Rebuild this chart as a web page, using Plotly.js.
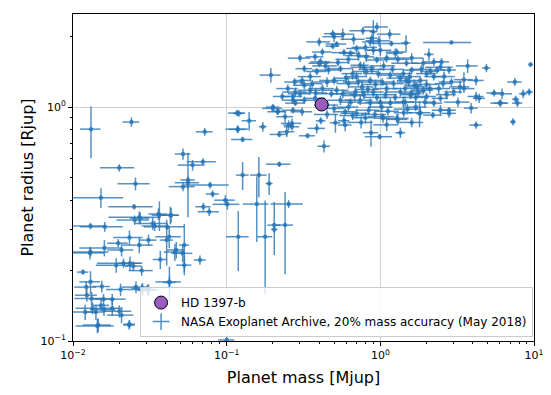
<!DOCTYPE html>
<html>
<head>
<meta charset="utf-8">
<script src="https://cdn.plot.ly/plotly-3.0.1.min.js"></script>
<style>html,body{margin:0;padding:0;background:#fff}#chart{width:551px;height:395px}</style>
</head>
<body>
<div id="chart"></div>
<script>
// NASA Exoplanet Archive planets (mass [Mjup], radius [Rjup]) with errors
const mass = [
0.0131,0.024,0.072,0.118,0.117,0.052,0.020,0.070,0.060,0.056,
0.056,0.0255,0.052,0.078,0.081,0.0152,0.098,0.101,0.0705,0.077,
0.025,0.027,0.0252,0.036,0.0435,0.033,0.034,0.013,0.0161,0.041,
0.0274,0.0365,0.043,0.0233,0.027,0.031,0.0197,0.0207,0.016,0.0130,
0.0407,0.047,0.037,0.0235,0.0213,0.0247,0.028,0.0191,0.0116,0.013,
0.0122,0.0123,0.0154,0.0204,0.0257,0.0284,0.031,0.0424,0.0132,0.0158,
0.018,0.0134,0.0152,0.0159,0.018,0.02,0.0207,0.0141,0.0146,0.0233,
0.012,0.0423,0.053,0.0517,0.046,0.053,0.067,0.119,0.0424,0.028,
0.0305,0.0232,0.0144,0.0129,0.1,0.12,0.14,0.118,0.172,0.127,
0.22,0.246,0.253,0.266,0.336,0.386,0.41,0.43,0.51,0.58,
0.2,0.214,0.87,0.99,1.04,0.22,0.127,0.162,0.189,0.157,
0.253,0.204,0.24,0.204,0.178,4.2,7.3,1.8,1.35,1.03,
1.3,2.8,3.9,6.05,7.8,1.47,2.9,2.07,9.5,4.9,
4.2,7.5,5.5,6.2,6.0,7.6,8.5,9.3,4.4,2.46,
2.8,3.7,3.5,3.3,3.5,2.8,2.46,1.82,1.42,2.2,
3.0,2.7,2.34,2.23,2.0,1.82,1.67,1.48,1.48,1.41,
1.6,1.9,2.0,2.46,1.57,1.45,2.23,1.77,2.56,1.9,
2.23,2.5,1.18,0.9,0.88,0.5,0.52,0.49,0.42,0.58,
0.64,1.28,0.95,0.81,0.74,0.41,0.32,0.386,0.46,0.55,
0.66,0.81,0.97,1.16,0.277,0.32,0.36,0.45,0.5,0.62,
0.72,0.86,1.03,1.22,1.53,1.73,0.28,0.35,0.42,0.52,
0.57,0.69,0.78,0.9,1.08,1.35,1.6,0.27,0.32,0.376,
0.55,0.64,0.74,0.86,1.0,1.16,1.41,0.5,0.59,0.7,
0.84,1.28,0.28,0.31,0.27,0.194,0.31,0.23,0.27,0.2,
0.216,0.24,0.266,0.59,0.49,0.86,0.9,0.7,0.376,0.4,
1.25,4.2,2.12,
0.45,0.62,0.68,0.76,0.83,0.93,1.1,1.25,1.45,1.7,
0.38,0.48,0.6,0.7,0.78,0.88,1.05,1.2,1.35,1.55,
0.95,1.02,1.12,0.66,0.8,0.92,1.5,1.7,1.95,2.1,
0.35,0.44,0.53,0.62,0.72,1.0,1.1,1.3,1.6,0.98,
0.8,0.67,0.57,0.77,0.95,1.15,0.4,0.3,0.25,0.3,
0.45,0.75,1.1,1.6,2.4,2.9,3.2,2.0,2.6,1.85
];
const massErr = [
0.002,0.003,0.009,0.02,0.015,0.006,0.005,0.015,0.012,0.006,
0.01,0.006,0.01,0.025,0.008,0.006,0.015,0.02,0.008,0.012,
0.008,0.01,0.006,0.005,0.005,0.008,0.006,0.0035,0.005,0.012,
0.004,0.004,0.006,0.005,0.006,0.004,0.003,0.004,0.005,0.004,
0.004,0.006,0.004,0.004,0.007,0.003,0.005,0.005,0.001,0.002,
0.002,0.002,0.002,0.004,0.005,0.004,0.005,0.004,0.003,0.003,
0.004,0.003,0.002,0.003,0.003,0.004,0.004,0.002,0.003,0.002,
0.002,0.008,0.004,0.008,0.007,0.006,0.006,0.02,0.008,0.004,
0.004,0.002,0.004,0.003,0.012,0.01,0.015,0.015,0.01,0.02,
0.03,0.03,0.02,0.03,0.04,0.05,0.03,0.04,0.04,0.05,
0.02,0.03,0.1,0.2,0.1,0.04,0.012,0.02,0.01,0.03,
0.06,0.02,0.03,0.01,0.02,0.4,0.3,0.1,0.1,0.2,
0.2,0.3,0.4,0.6,0.6,0.1,1.0,0.15,0.3,0.3,
0.5,0.8,0.6,1.0,0.8,0.4,0.5,0.5,0.4,0.5,
0.3,0.6,0.5,0.5,0.6,0.3,0.3,0.3,0.2,0.3,
0.4,0.4,0.3,0.3,0.3,0.2,0.2,0.2,0.3,0.2,
0.2,0.3,0.3,0.3,0.2,0.2,0.3,0.2,0.3,0.3,
0.3,0.3,0.3,0.05,0.08,0.08,0.08,0.05,0.06,0.1,
0.1,0.2,0.15,0.1,0.1,0.06,0.04,0.06,0.1,0.1,
0.1,0.15,0.2,0.2,0.04,0.05,0.06,0.08,0.1,0.1,
0.15,0.15,0.2,0.2,0.25,0.25,0.05,0.06,0.08,0.1,
0.1,0.12,0.15,0.15,0.2,0.25,0.25,0.04,0.05,0.06,
0.1,0.1,0.15,0.15,0.2,0.2,0.25,0.08,0.1,0.15,
0.15,0.25,0.04,0.05,0.04,0.03,0.04,0.03,0.04,0.03,
0.02,0.03,0.04,0.06,0.06,0.1,0.1,0.1,0.05,0.06,
0.15,0.5,0.3,
0.08,0.1,0.12,0.14,0.15,0.18,0.2,0.22,0.25,0.3,
0.07,0.09,0.1,0.12,0.14,0.16,0.2,0.22,0.25,0.28,
0.17,0.18,0.2,0.12,0.14,0.17,0.28,0.3,0.35,0.4,
0.06,0.08,0.1,0.11,0.13,0.18,0.2,0.24,0.3,0.18,
0.15,0.12,0.1,0.14,0.17,0.2,0.07,0.05,0.04,0.05,
0.08,0.14,0.2,0.3,0.45,0.5,0.6,0.35,0.45,0.3
];
const radius = [
0.805,0.863,0.784,0.805,0.943,0.63,0.55,0.584,0.565,0.488,
0.475,0.47,0.457,0.464,0.425,0.41,0.40,0.384,0.375,0.357,
0.375,0.338,0.329,0.349,0.345,0.318,0.31,0.31,0.308,0.308,
0.335,0.345,0.345,0.277,0.257,0.27,0.262,0.245,0.25,0.24,
0.27,0.245,0.223,0.215,0.215,0.209,0.2,0.211,0.197,0.179,
0.17,0.157,0.171,0.166,0.17,0.166,0.165,0.178,0.152,0.151,
0.151,0.138,0.142,0.136,0.138,0.134,0.129,0.133,0.117,0.118,
0.133,0.279,0.257,0.237,0.24,0.211,0.222,0.279,0.179,0.168,
0.166,0.117,0.116,0.238,0.101,0.94,0.874,0.803,0.824,0.727,
0.764,0.784,0.838,0.824,0.754,0.811,0.874,0.68,0.857,0.874,
1.0,0.955,0.777,0.747,0.895,0.57,0.512,0.512,0.471,0.385,
0.385,0.313,0.313,0.30,0.279,0.838,0.865,0.94,0.777,0.91,
0.886,0.94,0.99,1.04,1.04,1.88,1.89,1.68,1.52,1.47,
1.30,1.28,1.15,1.14,1.04,1.08,1.14,1.16,1.09,1.48,
1.44,1.50,1.31,1.22,1.2,0.97,0.97,0.946,0.946,0.924,
1.16,1.13,1.44,1.35,1.39,1.30,1.24,1.30,1.54,1.39,
1.44,1.18,1.11,1.09,1.13,1.05,1.04,1.16,1.26,1.54,
1.56,1.56,1.87,2.1,1.97,2.0,1.86,1.82,1.72,1.71,
1.70,1.72,1.59,1.64,1.51,1.56,1.46,1.42,1.44,1.46,
1.39,1.42,1.39,1.37,1.28,1.24,1.26,1.28,1.30,1.26,
1.28,1.30,1.28,1.26,1.28,1.22,1.16,1.18,1.2,1.18,
1.14,1.16,1.13,1.16,1.13,1.16,1.14,1.07,1.07,1.09,
1.07,1.05,1.07,1.04,1.05,1.04,1.05,0.987,0.955,0.94,
0.97,0.895,1.04,0.955,0.97,1.37,1.30,1.11,1.11,0.987,
0.96,0.91,0.852,0.838,2.06,1.90,1.75,1.78,1.64,1.54,
1.7,1.11,1.42,
1.02,1.0,1.12,1.22,1.19,1.25,1.2,1.1,1.2,1.1,
1.15,1.14,1.33,1.35,1.48,1.45,1.5,1.45,1.33,1.35,
1.1,1.0,0.96,0.92,0.9,0.93,0.98,1.0,1.05,1.2,
1.35,1.5,1.55,1.6,1.66,1.75,1.62,1.6,1.62,1.92,
1.8,1.95,2.05,2.12,2.2,2.05,1.9,1.62,1.2,1.14,
0.93,0.86,0.84,0.86,1.2,1.28,1.05,1.25,1.35,1.45
];
const radiusErr = [
0.2,0.04,0.03,0.03,0.03,0.035,0.02,0.02,0.03,0.15,
0.03,0.03,0.02,0.015,0.015,0.04,0.02,0.02,0.015,0.015,
0.01,0.02,0.015,0.02,0.025,0.02,0.015,0.01,0.015,0.01,
0.02,0.05,0.03,0.02,0.02,0.015,0.01,0.015,0.02,0.01,
0.06,0.02,0.02,0.015,0.01,0.01,0.01,0.015,0.005,0.02,
0.01,0.01,0.01,0.01,0.01,0.01,0.01,0.03,0.01,0.008,
0.008,0.008,0.008,0.008,0.01,0.008,0.01,0.01,0.008,0.005,
0.01,0.03,0.06,0.02,0.02,0.02,0.01,0.08,0.01,0.008,
0.008,0.005,0.008,0.015,0.005,0.03,0.08,0.03,0.04,0.02,
0.02,0.04,0.04,0.03,0.02,0.04,0.03,0.04,0.08,0.04,
0.03,0.03,0.1,0.02,0.04,0.015,0.07,0.1,0.05,0.12,
0.015,0.08,0.12,0.01,0.12,0.03,0.03,0.12,0.04,0.03,
0.05,0.04,0.05,0.04,0.04,0.15,0.03,0.1,0.03,0.06,
0.06,0.05,0.04,0.06,0.03,0.04,0.05,0.04,0.05,0.05,
0.05,0.1,0.1,0.08,0.05,0.03,0.05,0.05,0.04,0.03,
0.05,0.05,0.05,0.05,0.05,0.05,0.05,0.05,0.05,0.05,
0.05,0.05,0.04,0.04,0.05,0.04,0.04,0.05,0.05,0.08,
0.06,0.06,0.05,0.25,0.08,0.1,0.05,0.05,0.06,0.06,
0.05,0.06,0.05,0.08,0.06,0.06,0.05,0.05,0.06,0.05,
0.08,0.06,0.06,0.05,0.05,0.05,0.05,0.06,0.05,0.06,
0.05,0.05,0.05,0.05,0.05,0.05,0.05,0.05,0.05,0.05,
0.05,0.05,0.05,0.05,0.05,0.05,0.05,0.04,0.04,0.04,
0.05,0.04,0.05,0.05,0.05,0.05,0.05,0.04,0.04,0.04,
0.04,0.04,0.03,0.04,0.03,0.1,0.05,0.04,0.04,0.03,
0.03,0.05,0.04,0.05,0.08,0.08,0.08,0.06,0.06,0.06,
0.08,0.05,0.05,
0.04,0.05,0.06,0.08,0.05,0.06,0.05,0.04,0.06,0.05,
0.05,0.04,0.07,0.06,0.08,0.06,0.07,0.06,0.05,0.07,
0.04,0.05,0.04,0.04,0.05,0.04,0.05,0.04,0.05,0.06,
0.06,0.08,0.06,0.07,0.08,0.1,0.07,0.06,0.08,0.1,
0.08,0.1,0.12,0.08,0.1,0.1,0.08,0.06,0.05,0.04,
0.04,0.05,0.05,0.04,0.06,0.05,0.05,0.06,0.07,0.06
];

// Highlighted planet
const hdName = ["HD 1397-b"];
const hdMass = [0.415];
const hdRadius = [1.026];

const xTickVals = [0.01, 0.1, 1, 10];
const xTickText = ["10<sup>\u22122</sup>", "10<sup>\u22121</sup>", "10<sup>0</sup>", "10<sup>1</sup>"];
const yTickVals = [0.1, 1];
const yTickText = ["10<sup>\u22121</sup>", "10<sup>0</sup>"];

function minorVals(lo, hi) {
  const out = [];
  for (let e = lo; e < hi; e++) for (let k = 2; k <= 9; k++) out.push(k * Math.pow(10, e));
  return out;
}

const blue = 'rgba(40,118,182,0.8)';

const traces = [
  {
    x: mass, y: radius, type: 'scatter', mode: 'markers',
    marker: {color: blue, size: 4.5},
    error_x: {type: 'data', array: massErr, color: blue, thickness: 1.5, width: 0},
    error_y: {type: 'data', array: radiusErr, color: blue, thickness: 1.5, width: 0},
    showlegend: false, hoverinfo: 'skip'
  },
  {
    x: hdMass, y: hdRadius, type: 'scatter', mode: 'markers', name: hdName[0],
    marker: {color: '#9b5bbf', size: 13, line: {color: '#000', width: 1}},
    legendrank: 1
  },
  {
    x: [null], y: [null], type: 'scatter', mode: 'markers',
    name: 'NASA Exoplanet Archive, 20% mass accuracy (May 2018)',
    marker: {color: blue, size: 12, symbol: 'cross-thin', line: {color: blue, width: 1.5}},
    legendrank: 2
  }
];

const axisCommon = {
  type: 'log', showline: true, mirror: true, linecolor: '#000', linewidth: 1,
  ticks: 'outside', ticklen: 4, tickwidth: 1, tickcolor: '#000',
  showgrid: true, gridcolor: '#d0d0d0', gridwidth: 1, zeroline: false,
  tickmode: 'array', tickfont: {size: 11, color: '#000', family: 'DejaVu Sans'}
};

const layout = {
  width: 551, height: 395,
  margin: {l: 73, r: 17, t: 14, b: 54},
  paper_bgcolor: '#fff', plot_bgcolor: '#fff',
  font: {family: 'DejaVu Sans', color: '#000'},
  xaxis: Object.assign({}, axisCommon, {
    range: [-2, 1], tickvals: xTickVals, ticktext: xTickText,
    minor: {tickmode: 'array', tickvals: minorVals(-2, 1), ticks: 'outside', ticklen: 2, tickcolor: '#000', showgrid: false},
    title: {text: 'Planet mass [Mjup]', font: {size: 16}, standoff: 10}
  }),
  yaxis: Object.assign({}, axisCommon, {
    range: [-1, 0.398], tickvals: yTickVals, ticktext: yTickText,
    minor: {tickmode: 'array', tickvals: minorVals(-1, 1), ticks: 'outside', ticklen: 2, tickcolor: '#000', showgrid: false},
    title: {text: 'Planet radius [Rjup]', font: {size: 16}, standoff: 2}
  }),
  legend: {
    x: 0.998, y: 0.012, xanchor: 'right', yanchor: 'bottom',
    bgcolor: 'rgba(255,255,255,0.8)', bordercolor: '#cccccc', borderwidth: 1,
    font: {size: 12, color: '#000'}, tracegroupgap: 0
  },
  showlegend: true
};

Plotly.newPlot('chart', traces, layout, {staticPlot: true, displayModeBar: false});
</script>
</body>
</html>
